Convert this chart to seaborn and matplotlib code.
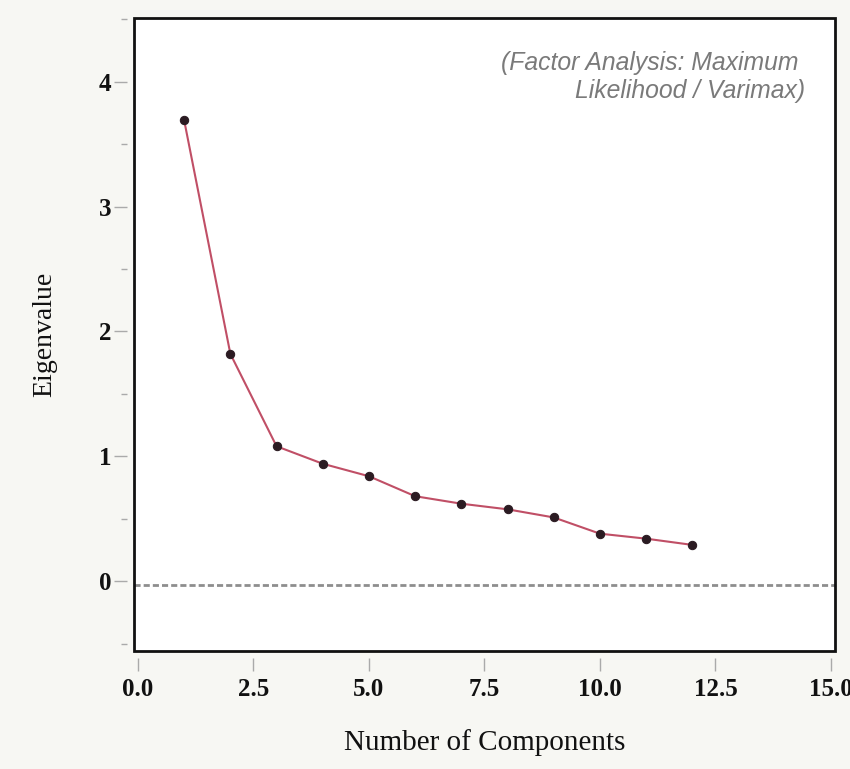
import matplotlib
matplotlib.use("Agg")
import matplotlib.pyplot as plt
from matplotlib.patches import Rectangle
from matplotlib.ticker import MultipleLocator
import seaborn as sns
import pandas as pd

# Scree plot values
components = [1, 2, 3, 4, 5, 6, 7, 8, 9, 10, 11, 12]
eigenvalues = [3.69, 1.82, 1.08, 0.94, 0.84, 0.68, 0.62, 0.575, 0.51, 0.38, 0.34, 0.29]
x_ticks = [0.0, 2.5, 5.0, 7.5, 10.0, 12.5, 15.0]
x_tick_labels = ["0.0", "2.5", "5.0", "7.5", "10.0", "12.5", "15.0"]
y_ticks = [0, 1, 2, 3, 4]
reference_level = -0.03

sns.set_theme(style="white")
plt.rcParams["font.family"] = ["Liberation Serif", "DejaVu Serif"]

df = pd.DataFrame({"Component": components, "Eigenvalue": eigenvalues})

fig = plt.figure(figsize=(8.5, 7.69), dpi=100, facecolor="#f7f7f3")
ax = fig.add_axes([0.1576, 0.1534, 0.8248, 0.8232])
ax.set_facecolor("white")

ax.axhline(reference_level, color="#8e8e8e", lw=2.0, dashes=(2.2, 1.1), zorder=1)

sns.lineplot(data=df, x="Component", y="Eigenvalue", ax=ax, color="#c04f66",
             lw=1.5, marker="o", markersize=6, markerfacecolor="#2b1b22",
             markeredgecolor="#2b1b22", zorder=3)

ax.set_xlim(-0.087, 15.09)
ax.set_ylim(-0.56, 4.51)

# Detached ticks: spines pushed outward and hidden, box drawn separately
for side in ["left", "bottom"]:
    ax.spines[side].set_position(("outward", 5))
for sp in ax.spines.values():
    sp.set_visible(False)
ax.add_patch(Rectangle((0, 0), 1, 1, transform=ax.transAxes, fill=False,
                       ec="#111111", lw=2.0, clip_on=False, zorder=5))

ax.set_xticks(x_ticks)
ax.set_xticklabels(x_tick_labels)
ax.set_yticks(y_ticks)
ax.yaxis.set_minor_locator(MultipleLocator(0.5))
ax.tick_params(axis="x", which="major", direction="out", length=9.5, width=1,
               color="#aaaaaa", pad=5, labelsize=18, bottom=True)
ax.tick_params(axis="y", which="major", direction="out", length=9.5, width=1,
               color="#aaaaaa", pad=2, labelsize=18, left=True)
ax.tick_params(axis="y", which="minor", direction="out", length=4.5, width=1,
               color="#aaaaaa", left=True)
for lbl in ax.get_xticklabels() + ax.get_yticklabels():
    lbl.set_fontweight("bold")
    lbl.set_color("#111111")

ax.set_xlabel("Number of Components", fontsize=21, color="#111111", labelpad=20)
ax.set_ylabel("Eigenvalue", fontsize=20, color="#111111", labelpad=30)

ax.text(0.957, 0.948, "(Factor Analysis: Maximum \nLikelihood / Varimax)",
        transform=ax.transAxes, ha="right", va="top", fontsize=17.8,
        fontstyle="italic", color="#7a7a7a", family=["Liberation Sans"],
        linespacing=1.2)

fig.savefig("out.png", dpi=100, facecolor=fig.get_facecolor())
